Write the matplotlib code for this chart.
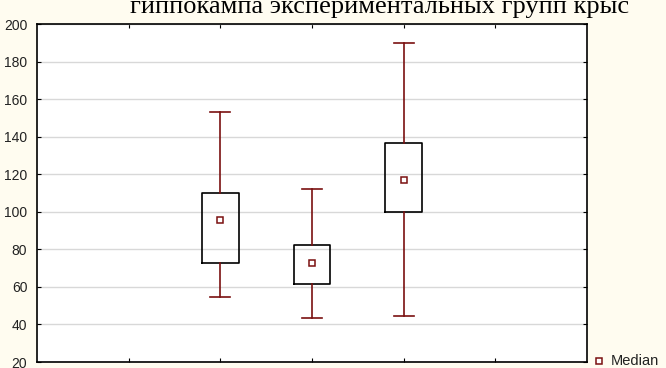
import matplotlib
matplotlib.use('Agg')
import matplotlib.pyplot as plt

# values
positions = [2, 3, 4]
q1 = [72.5, 61.5, 100]
q3 = [110, 82.5, 136.5]
medians = [95.5, 72.5, 117]
whisk_lo = [54.5, 43.5, 44.5]
whisk_hi = [153, 112, 190]
yticks = [20, 40, 60, 80, 100, 120, 140, 160, 180, 200]

bg = '#fffcf0'
dark_red = '#7a1010'

fig = plt.figure(figsize=(6.66, 3.68), dpi=100, facecolor=bg)
ax = fig.add_axes([37 / 666, 1 - 362 / 368, 550 / 666, 338 / 368])
ax.set_facecolor('white')

stats = []
for lo, a, m, b, hi in zip(whisk_lo, q1, medians, q3, whisk_hi):
    stats.append({'whislo': lo, 'q1': a, 'med': m, 'q3': b, 'whishi': hi, 'fliers': []})

ax.bxp(stats, positions=positions, widths=0.4, showfliers=False,
       boxprops=dict(color='black', linewidth=1.2),
       whiskerprops=dict(color=dark_red, linewidth=1.2),
       capprops=dict(color=dark_red, linewidth=1.2),
       medianprops=dict(linewidth=0), capwidths=0.22)
ax.plot(positions, medians, 's', ms=4.5, mfc='white', mec=dark_red, mew=1.1,
        linestyle='none', zorder=5)

ax.set_xlim(0, 6)
ax.set_ylim(20, 200)
ax.set_yticks(yticks)
ax.set_xticks([1, 2, 3, 4, 5])
ax.set_xticklabels([])
ax.grid(axis='y', color='#d8d8d8', linewidth=1)
ax.set_axisbelow(True)
ax.tick_params(direction='in', length=3, top=True, right=True, colors='black',
               labelsize=10, labelcolor='#222222', pad=7)
for lbl in ax.get_yticklabels():
    lbl.set_family(['Liberation Sans', 'DejaVu Sans'])
for s in ax.spines.values():
    s.set_linewidth(1.2)

# second line of the title, top half cut off in the reference
fig.text(0.57, 1 - 13 / 368, 'гиппокампа экспериментальных групп крыс',
         family=['Liberation Serif', 'DejaVu Serif'], fontsize=19,
         ha='center', va='baseline')

fig.lines.append(plt.Line2D([599 / 666], [1 - 361 / 368], marker='s', ms=5,
                            mfc='white', mec=dark_red, mew=1.1,
                            transform=fig.transFigure, figure=fig))
fig.text(611 / 666, 1 - 361 / 368, 'Median', family=['Liberation Sans', 'DejaVu Sans'],
         fontsize=10.5, ha='left', va='center', color='#222222')

fig.savefig('out.png', dpi=100, facecolor=bg)
